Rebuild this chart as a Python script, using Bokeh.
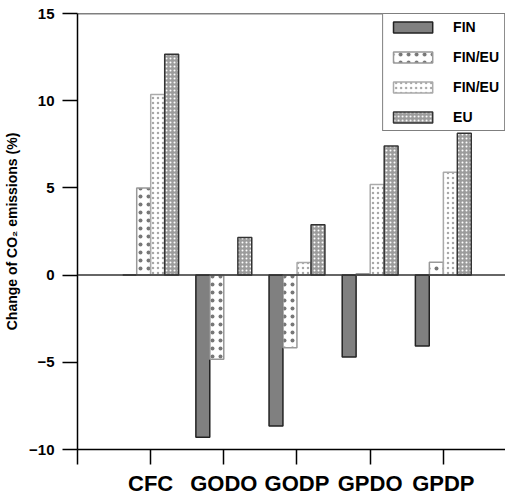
from bokeh.plotting import figure
from bokeh.models import (ColumnDataSource, FixedTicker, Legend, LegendItem, Span)
from bokeh.transform import dodge
from bokeh.embed import file_html
from bokeh.resources import INLINE

categories = ["CFC", "GODO", "GODP", "GPDO", "GPDP"]
series_names = ["FIN", "FIN/EU", "FIN/EU", "EU"]
fin = [0.0, -9.3, -8.65, -4.7, -4.06]
fin_eu_a = [5.0, -4.83, -4.17, 0.08, 0.74]
fin_eu_b = [10.35, 0.0, 0.72, 5.2, 5.9]
eu = [12.67, 2.16, 2.88, 7.4, 8.13]
y_ticks = [-10, -5, 0, 5, 10, 15]

xpos = [i + 1 for i in range(len(categories))]
src = ColumnDataSource(dict(x=xpos, fin=fin, a=fin_eu_a, b=fin_eu_b, eu=eu))

p = figure(width=505, height=498, x_range=(0, 5.85), y_range=(-10, 15),
           output_backend="svg", toolbar_location=None,
           min_border_left=77, min_border_top=13, min_border_right=0,
           min_border_bottom=49)
p.outline_line_color = None
p.xgrid.visible = False
p.ygrid.visible = False

W = 0.19
styles = [
    dict(fill_color="#808080", line_color="#222222", line_width=1.5),
    dict(fill_color="white", hatch_pattern="dot", hatch_color="#555555",
         hatch_scale=8, hatch_alpha=0.8, line_color="#999999", line_width=1.5),
    dict(fill_color="white", hatch_pattern="dot", hatch_color="#a8a8a8",
         hatch_scale=5, line_color="#aaaaaa", line_width=1.5),
    dict(fill_color="#9c9c9c", hatch_pattern="dot", hatch_color="white",
         hatch_scale=4, line_color="#333333", line_width=1.5),
]
cols = ["fin", "a", "b", "eu"]
offs = [-0.287, -0.0957, 0.0957, 0.287]

# zero line and top line
p.add_layout(Span(location=0, dimension="width", line_color="#333333", line_width=1.5))
p.add_layout(Span(location=15, dimension="width", line_color="black", line_width=1.5))

rs = []
for c, o, st in zip(cols, offs, styles):
    r = p.vbar(x=dodge("x", o), top=c, bottom=0, width=W, source=src, **st)
    rs.append(r)

items = [LegendItem(label=n, renderers=[r]) for n, r in zip(series_names, rs)]
legend = Legend(items=items, location="top_right")
legend.glyph_width = 49
legend.glyph_height = 14
legend.label_height = 14
legend.spacing = 14
legend.padding = 5
legend.margin = 0
legend.label_standoff = 16
legend.label_text_font = "Liberation Sans"
legend.label_text_font_style = "bold"
legend.label_text_font_size = "14px"
legend.label_text_color = "black"
legend.border_line_color = "black"
legend.border_line_width = 1.5
legend.background_fill_alpha = 1
p.add_layout(legend)

# x axis
xa = p.xaxis[0]
xa.ticker = FixedTicker(ticks=[0] + xpos)
xa.major_label_overrides = {i + 1: c for i, c in enumerate(categories)}
xa.major_label_overrides[0] = ""
xa.minor_tick_line_color = None
xa.major_tick_in = 0
xa.major_tick_out = 15
xa.major_tick_line_width = 1.5
xa.axis_line_width = 1.5
xa.major_label_standoff = 6
xa.major_label_text_font = "Liberation Sans"
xa.major_label_text_font_style = "bold"
xa.major_label_text_font_size = "22px"
xa.major_label_text_color = "black"

# y axis
ya = p.yaxis[0]
ya.ticker = FixedTicker(ticks=y_ticks)
ya.minor_tick_line_color = None
ya.major_tick_in = 0
ya.major_tick_out = 15
ya.major_tick_line_width = 1.5
ya.axis_line_width = 1.5
ya.major_label_standoff = 8
ya.major_label_text_font = "Liberation Sans"
ya.major_label_text_font_style = "bold"
ya.major_label_text_font_size = "15px"
ya.major_label_text_color = "black"
ya.axis_label = "Change of CO₂ emissions (%)"
ya.axis_label_text_font = "Liberation Sans"
ya.axis_label_text_font_style = "bold"
ya.axis_label_text_font_size = "14px"
ya.axis_label_text_color = "black"
ya.axis_label_standoff = 6

open("out.html", "w").write(file_html(p, INLINE))
